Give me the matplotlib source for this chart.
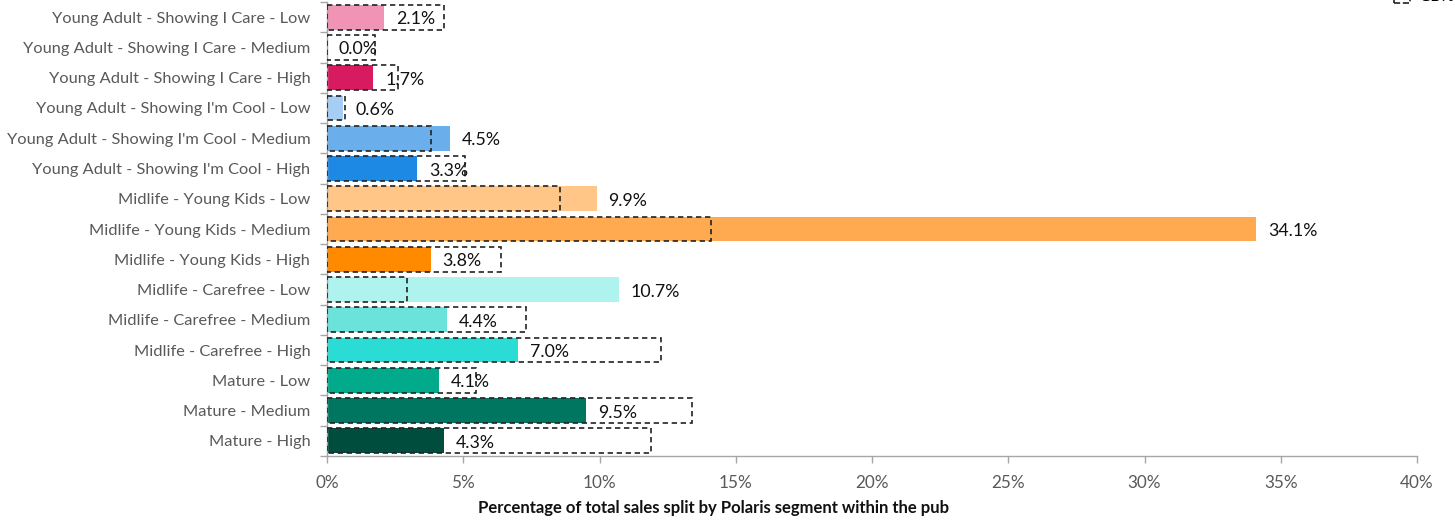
import matplotlib
matplotlib.use("Agg")
import matplotlib.pyplot as plt
from matplotlib.patches import Patch
from matplotlib.ticker import PercentFormatter, FixedLocator

plt.rcParams['font.family'] = ['Lato', 'DejaVu Sans']

segments = [
    "Young Adult - Showing I Care - Low",
    "Young Adult - Showing I Care - Medium",
    "Young Adult - Showing I Care - High",
    "Young Adult - Showing I'm Cool - Low",
    "Young Adult - Showing I'm Cool - Medium",
    "Young Adult - Showing I'm Cool - High",
    "Midlife - Young Kids - Low",
    "Midlife - Young Kids - Medium",
    "Midlife - Young Kids - High",
    "Midlife - Carefree - Low",
    "Midlife - Carefree - Medium",
    "Midlife - Carefree - High",
    "Mature - Low",
    "Mature - Medium",
    "Mature - High",
]
pub_share = [2.1, 0.0, 1.7, 0.6, 4.5, 3.3, 9.9, 34.1, 3.8, 10.7, 4.4, 7.0, 4.1, 9.5, 4.3]
gb_share = [4.3, 1.75, 2.6, 0.65, 3.8, 5.05, 8.55, 14.1, 6.4, 2.95, 7.3, 12.25, 5.45, 13.4, 11.9]
bar_colors = [
    "#F193B5", "#FFFFFF", "#D81B60",
    "#A6CEF5", "#6AAEEC", "#1E88E5",
    "#FFC688", "#FFAA50", "#FF8A00",
    "#AFF3EF", "#6BE3DB", "#2ADCD3",
    "#00AA8A", "#007560", "#004D3D",
]
x_ticks = [0, 5, 10, 15, 20, 25, 30, 35, 40]

fig = plt.figure(figsize=(14.55, 5.2), dpi=100)
ax = fig.add_axes([327 / 1455, 1 - 456 / 520, (1417 - 327) / 1455, 454 / 520])

ypos = list(range(len(segments)))
bar_h = 0.82
ax.barh(ypos, pub_share, height=bar_h, color=bar_colors, zorder=2)
ax.barh(ypos, gb_share, height=bar_h, fill=False, edgecolor="#222222",
        linestyle=(0, (3.2, 2.2)), linewidth=1.2, zorder=3)

for y, v in zip(ypos, pub_share):
    ax.annotate(f"{v:.1f}%", xy=(v, y), xytext=(8.5, -1.5), textcoords="offset points",
                ha="left", va="center", fontsize=12.8, color="#111111", zorder=4)

ax.set_ylim(len(segments) - 0.5, -0.5)
ax.set_xlim(0, 40)
ax.set_yticks(ypos)
ax.set_yticklabels(segments, fontsize=11.8, color="#595959")
ax.yaxis.set_minor_locator(FixedLocator([i - 0.5 for i in range(len(segments) + 1)]))
ax.tick_params(axis="y", which="major", length=0, pad=12)
ax.tick_params(axis="y", which="minor", length=5, color="#A6A6A6", width=1)
ax.set_xticks(x_ticks)
ax.xaxis.set_major_formatter(PercentFormatter(decimals=0))
ax.tick_params(axis="x", length=5, color="#A6A6A6", width=1, labelsize=12.3,
               labelcolor="#595959", pad=9)

for side in ("top", "right"):
    ax.spines[side].set_visible(False)
for side in ("left", "bottom"):
    ax.spines[side].set_color("#A6A6A6")
    ax.spines[side].set_linewidth(1)

fig.text(713 / 1455, 1 - 508 / 520, "Percentage of total sales split by Polaris segment within the pub",
         ha="center", va="center", fontsize=12, fontweight="bold", color="#111111")

handle = Patch(facecolor="none", edgecolor="#222222", linestyle="--", linewidth=1.2)
fig.legend([handle], ["GB%"], loc="lower right", bbox_to_anchor=(1.0, 1 - 4 / 520),
           frameon=False, fontsize=12, handlelength=1.0, handleheight=1.0,
           borderpad=0.0, borderaxespad=0.0, handletextpad=0.5)

fig.savefig("out.png", dpi=100)
